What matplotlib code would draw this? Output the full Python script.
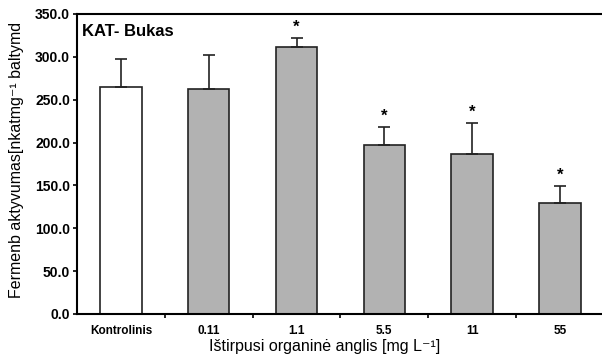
import matplotlib.pyplot as plt

# duomenys
kategorijos = ["Kontrolinis", "0.11", "1.1", "5.5", "11", "55"]
reiksmes = [265, 262, 312, 197, 187, 129]
klaidos = [33, 40, 10, 21, 36, 20]
zvaigzdes = ["", "", "*", "*", "*", "*"]
spalvos = ["white", "#b2b2b2", "#b2b2b2", "#b2b2b2", "#b2b2b2", "#b2b2b2"]

plt.rcParams['font.family'] = ['Liberation Sans', 'DejaVu Sans']

fig = plt.figure(figsize=(6.02, 3.58), dpi=100)
ax = fig.add_axes([0.128, 0.123, 0.875, 0.838])

x = range(len(kategorijos))
ax.bar(x, reiksmes, width=0.47, color=spalvos, edgecolor="#222222", linewidth=1.2, zorder=2)
ax.errorbar(x, reiksmes, yerr=[[0] * len(klaidos), klaidos], fmt="none",
            ecolor="#222222", elinewidth=1.2, capsize=4, capthick=1.2, zorder=3)

for i, (v, e, s) in enumerate(zip(reiksmes, klaidos, zvaigzdes)):
    if s:
        ax.text(i, v + e + 4, s, ha="center", va="bottom", fontsize=12, fontweight="bold")

ax.set_xlim(-0.5, 5.5)
ax.set_ylim(0, 350)
ax.set_yticks(range(0, 351, 50))
ax.set_yticklabels([f"{t:.1f}" for t in range(0, 351, 50)], fontsize=10, fontweight="bold")
ax.set_xticks(list(x))
ax.set_xticklabels(kategorijos, fontsize=8.5, fontweight="bold")
ax.tick_params(axis="x", length=0, pad=8)
ax.set_xticks([i + 0.5 for i in range(5)], minor=True)
ax.tick_params(axis="x", which="minor", length=3, direction="out", width=1.2)
ax.tick_params(axis="y", length=3, width=1.2, direction="out", pad=2)

for side in ["left", "bottom", "top"]:
    ax.spines[side].set_linewidth(1.5)
ax.spines["right"].set_visible(False)

ax.text(0.01, 0.94, "KAT- Bukas", transform=ax.transAxes, fontsize=12,
        fontweight="bold", va="center")

fig.text(17 / 602, 1 - 160 / 358, "Fermenb aktyvumas[nkatmg⁻¹ baltymd",
         fontsize=11.5, rotation=90, ha="center", va="center")
fig.text(325 / 602, 1 - 346 / 358, "Ištirpusi organinė anglis [mg L⁻¹]",
         fontsize=11.5, ha="center", va="center")

plt.savefig("out.png", dpi=100)
